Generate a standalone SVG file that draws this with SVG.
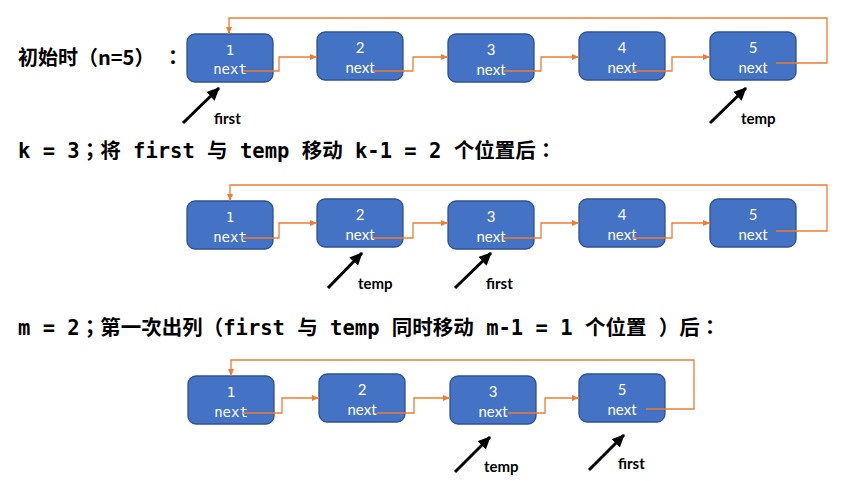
<svg xmlns="http://www.w3.org/2000/svg" width="848" height="481" viewBox="0 0 848 481">
<style>
.box{fill:#4472C4;stroke:#2F528F;stroke-width:1.3}
.num{font-family:Lato,"Open Sans",sans-serif;font-size:15px;fill:#fff;text-anchor:middle}
.mono{font-family:"DejaVu Sans Mono","Liberation Mono",monospace;font-size:14px;fill:#fff;text-anchor:middle}
.link{fill:none;stroke:#ED7D31;stroke-width:1.3}
.ptr{fill:none;stroke:#000;stroke-width:3}
.lab{font-family:Lato,"Open Sans",sans-serif;font-weight:bold;font-size:15px;fill:#000}
.t1{font-family:"Noto Sans CJK TC",sans-serif;font-weight:bold;font-size:20px;fill:#000}
.t2{font-family:"DejaVu Sans Mono","Noto Sans CJK TC",monospace;font-weight:bold;font-size:20.5px;fill:#000}
</style>
<defs>
<marker id="oa" markerWidth="8" markerHeight="8" refX="7" refY="4" orient="auto" markerUnits="userSpaceOnUse"><path d="M0,1 L7,4 L0,7 z" fill="#ED7D31"/></marker>
<marker id="ba" markerWidth="14" markerHeight="14" refX="12" refY="7" orient="auto" markerUnits="userSpaceOnUse"><path d="M0,1 L13,7 L0,13 z" fill="#000"/></marker>
</defs>

<g id="titles">
<text class="t1" x="18" y="65">初始时（n=5）<tspan x="163">：</tspan></text>
<text class="t2" x="18" y="158">k = 3；将 first 与 temp 移动 k-1 = 2 个位置后：</text>
<text class="t2" x="18" y="335">m = 2；第一次出列（first 与 temp 同时移动 m-1 = 1 个位置 ）后：</text>
</g>

<!-- Row 1 -->
<g id="r1n1"><rect class="box" x="187" y="34" width="86" height="48" rx="8"/><text class="mono" x="230" y="55">1</text><text class="mono" x="230" y="74">next</text></g>
<g id="r1n2"><rect class="box" x="317" y="32" width="86" height="48" rx="8"/><text class="num" x="360" y="53">2</text><text class="num" x="360" y="73">next</text></g>
<g id="r1n3"><rect class="box" x="448" y="34" width="86" height="48" rx="8"/><text class="num" x="491" y="55">3</text><text class="num" x="491" y="75">next</text></g>
<g id="r1n4"><rect class="box" x="579" y="32" width="86" height="48" rx="8"/><text class="num" x="622" y="53">4</text><text class="num" x="622" y="73">next</text></g>
<g id="r1n5"><rect class="box" x="710" y="32" width="86" height="48" rx="8"/><text class="num" x="753" y="53">5</text><text class="num" x="753" y="73">next</text></g>
<g id="r1first"><line class="ptr" x1="183" y1="123" x2="219" y2="88" marker-end="url(#ba)"/><text class="lab" x="214" y="124">first</text></g>
<g id="r1temp"><line class="ptr" x1="710" y1="123" x2="746" y2="88" marker-end="url(#ba)"/><text class="lab" x="741" y="124">temp</text></g>

<!-- Row 2 -->
<g id="r2n1"><rect class="box" x="187" y="201" width="86" height="48" rx="8"/><text class="mono" x="230" y="222">1</text><text class="mono" x="230" y="242">next</text></g>
<g id="r2n2"><rect class="box" x="317" y="199" width="86" height="48" rx="8"/><text class="num" x="360" y="220">2</text><text class="num" x="360" y="240">next</text></g>
<g id="r2n3"><rect class="box" x="448" y="201" width="86" height="48" rx="8"/><text class="num" x="491" y="222">3</text><text class="num" x="491" y="242">next</text></g>
<g id="r2n4"><rect class="box" x="579" y="199" width="86" height="48" rx="8"/><text class="num" x="622" y="220">4</text><text class="num" x="622" y="240">next</text></g>
<g id="r2n5"><rect class="box" x="710" y="199" width="86" height="48" rx="8"/><text class="num" x="753" y="220">5</text><text class="num" x="753" y="240">next</text></g>
<g id="r2temp"><line class="ptr" x1="328" y1="288" x2="362" y2="253" marker-end="url(#ba)"/><text class="lab" x="358" y="289">temp</text></g>
<g id="r2first"><line class="ptr" x1="455" y1="288" x2="491" y2="253" marker-end="url(#ba)"/><text class="lab" x="486" y="289">first</text></g>

<!-- Row 3 -->
<g id="r3n1"><rect class="box" x="188" y="376" width="86" height="48" rx="8"/><text class="mono" x="231" y="397">1</text><text class="mono" x="231" y="417">next</text></g>
<g id="r3n2"><rect class="box" x="319" y="374" width="86" height="48" rx="8"/><text class="num" x="362" y="395">2</text><text class="num" x="362" y="415">next</text></g>
<g id="r3n3"><rect class="box" x="450" y="376" width="86" height="48" rx="8"/><text class="num" x="493" y="397">3</text><text class="num" x="493" y="417">next</text></g>
<g id="r3n5"><rect class="box" x="579" y="374" width="86" height="48" rx="8"/><text class="num" x="622" y="395">5</text><text class="num" x="622" y="415">next</text></g>
<g id="r3temp"><line class="ptr" x1="455" y1="472" x2="490" y2="437" marker-end="url(#ba)"/><text class="lab" x="484" y="472">temp</text></g>
<g id="r3first"><line class="ptr" x1="589" y1="470" x2="624" y2="435" marker-end="url(#ba)"/><text class="lab" x="618" y="469">first</text></g>

<g id="connectors">
<path class="link" d="M243,71 H279 V57 H317" marker-end="url(#oa)"/>
<path class="link" d="M373,71 H413 V57 H448" marker-end="url(#oa)"/>
<path class="link" d="M503,71 H541 V57 H579" marker-end="url(#oa)"/>
<path class="link" d="M633,71 H672 V57 H710" marker-end="url(#oa)"/>
<path class="link" d="M776,63 H827 V18 H229 V34" marker-end="url(#oa)"/>

<path class="link" d="M242,238 H279 V223 H317" marker-end="url(#oa)"/>
<path class="link" d="M373,238 H413 V223 H448" marker-end="url(#oa)"/>
<path class="link" d="M503,238 H541 V223 H579" marker-end="url(#oa)"/>
<path class="link" d="M633,238 H672 V223 H710" marker-end="url(#oa)"/>
<path class="link" d="M776,231 H827 V185 H230 V201" marker-end="url(#oa)"/>

<path class="link" d="M243,413 H282 V398 H319" marker-end="url(#oa)"/>
<path class="link" d="M377,413 H414 V398 H450" marker-end="url(#oa)"/>
<path class="link" d="M508,413 H545 V398 H579" marker-end="url(#oa)"/>
<path class="link" d="M646,409 H694 V360 H231 V376" marker-end="url(#oa)"/>
</g>
</svg>
